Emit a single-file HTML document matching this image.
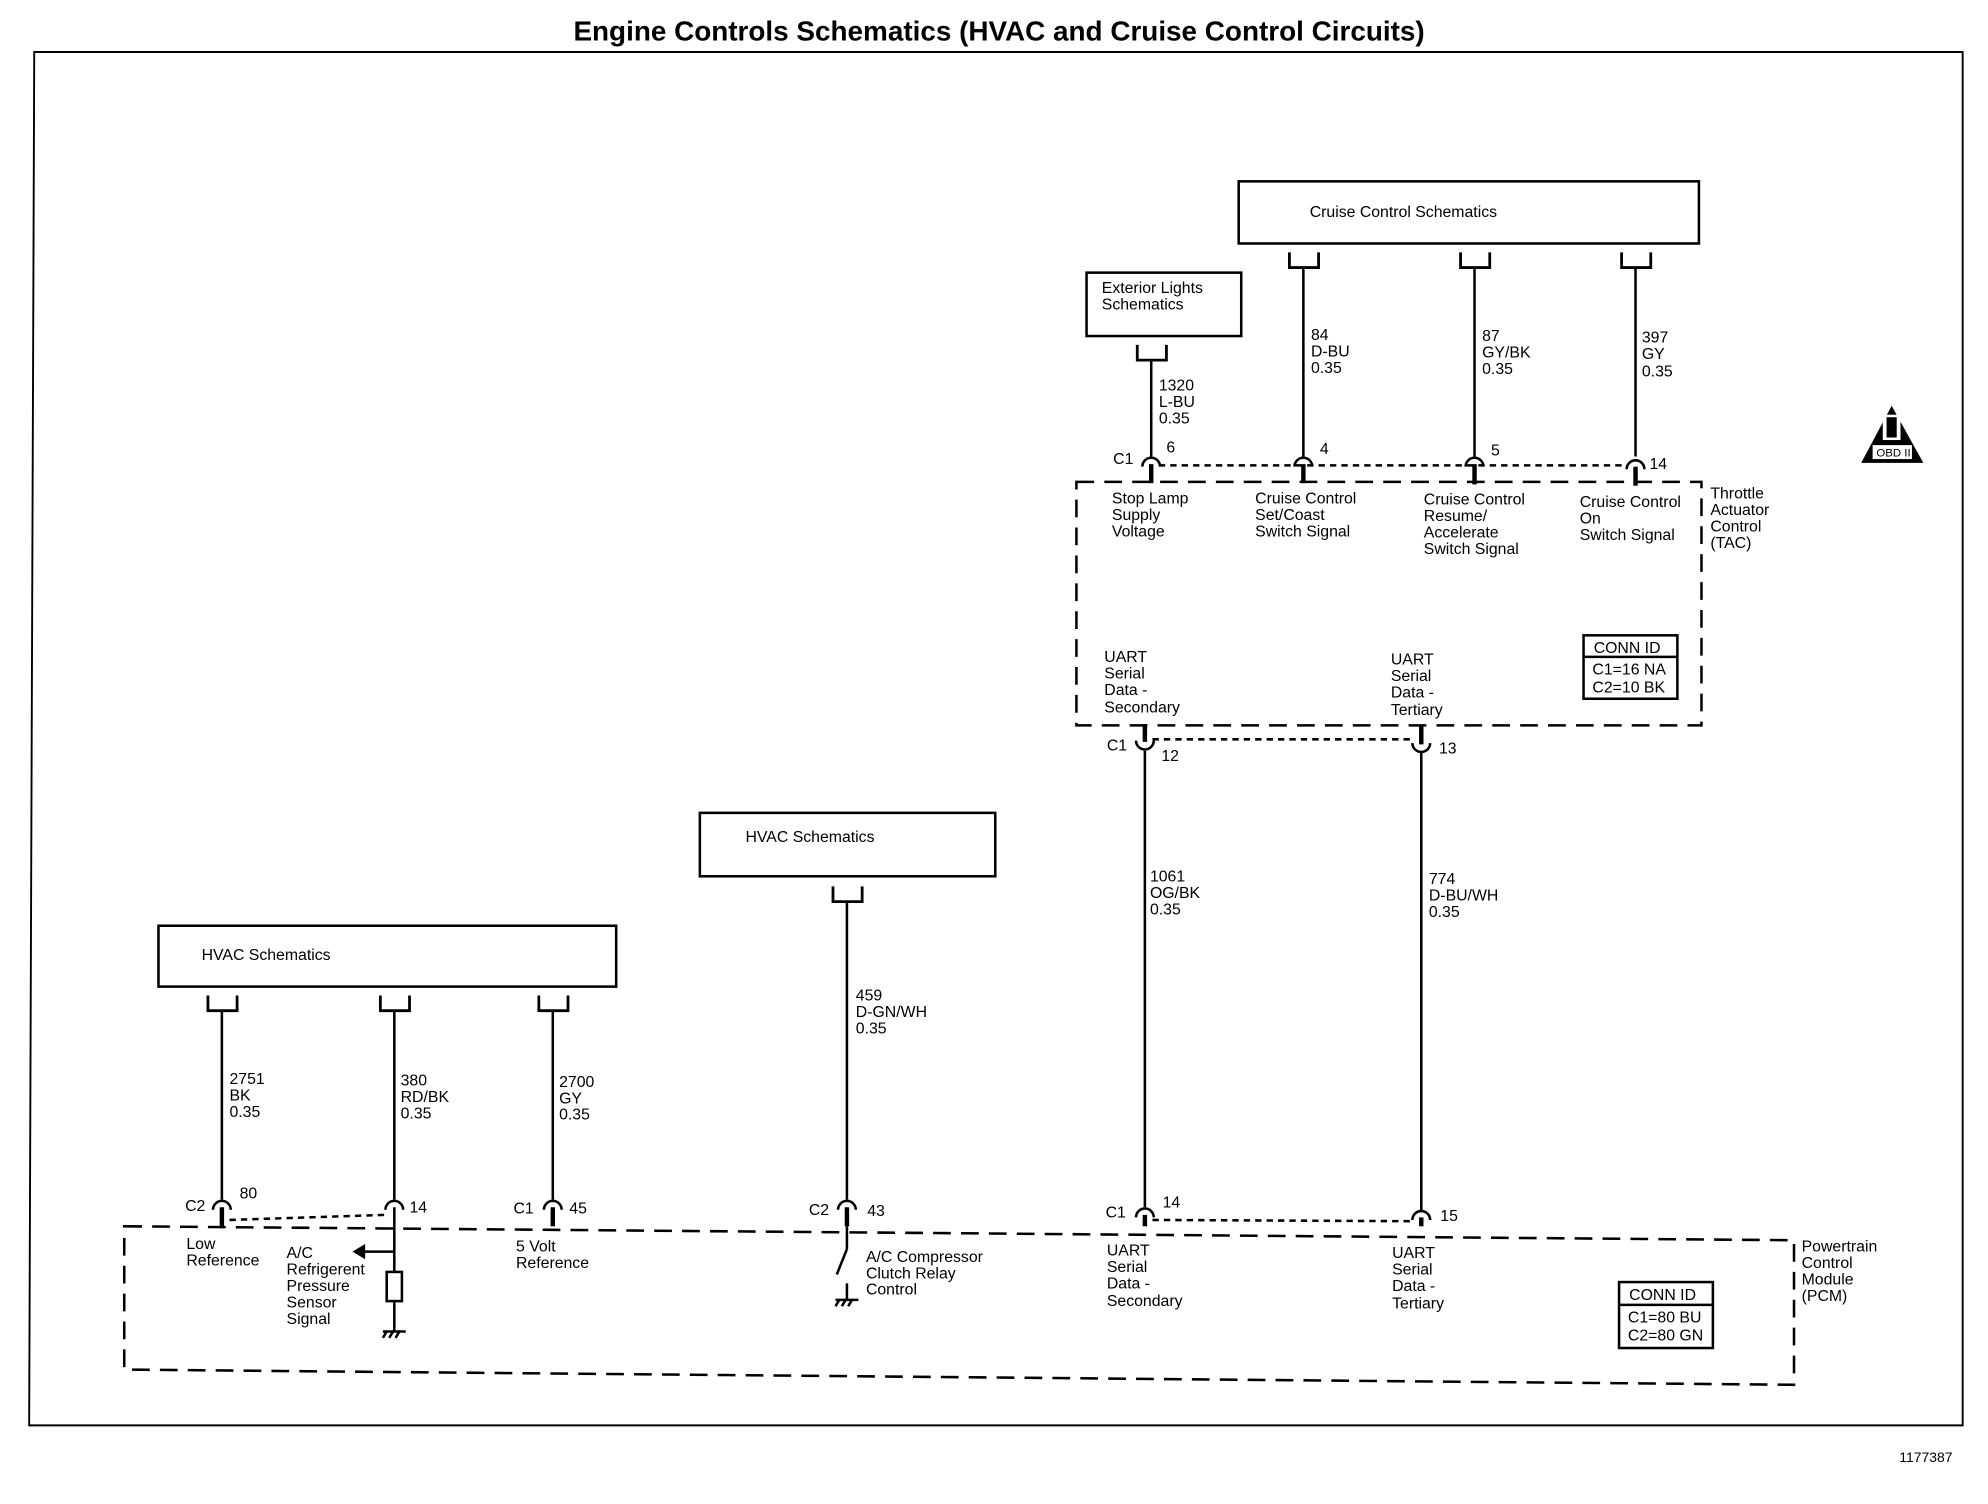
<!DOCTYPE html>
<html><head><style>
html,body{margin:0;padding:0;background:#fff}
svg{display:block}
text{font-family:"Liberation Sans",sans-serif;font-size:12.5px;fill:#000}
.b{font-weight:bold}
</style></head><body>
<svg width="1988" height="1504" viewBox="0 0 1568 1186" preserveAspectRatio="none" xmlns="http://www.w3.org/2000/svg">
<rect width="1568" height="1186" fill="#fff"/>
<text x="788" y="32" text-anchor="middle" class="b" style="font-size:22px">Engine Controls Schematics (HVAC and Cruise Control Circuits)</text>
<path d="M27 41 L1548 41 L1548 1124 L23 1124 Z" fill="none" stroke="#000" stroke-width="1.5"/>
<text x="1498" y="1153" style="font-size:11px">1177387</text>

<g fill="none" stroke="#000" stroke-width="2">
<rect x="977" y="143" width="363" height="49"/>
<rect x="857" y="215" width="122" height="50"/>
<rect x="125" y="730" width="361" height="48"/>
<rect x="552" y="641" width="233" height="50"/>
</g>
<text x="1033" y="171">Cruise Control Schematics</text>
<text x="869" y="231">Exterior Lights</text>
<text x="869" y="244">Schematics</text>
<text x="159" y="757">HVAC Schematics</text>
<text x="588" y="664">HVAC Schematics</text>

<g fill="none" stroke="#000" stroke-width="2.2">
<path d="M897 272 V284 H920 V272"/>
<path d="M1017 199 V211 H1040 V199"/>
<path d="M1152 199 V211 H1175 V199"/>
<path d="M1279 199 V211 H1302 V199"/>
<path d="M164 785 V797 H187 V785"/>
<path d="M300 785 V797 H323 V785"/>
<path d="M425 785 V797 H448 V785"/>
<path d="M657 699 V711 H680 V699"/>
</g>
<g stroke="#000" stroke-width="2">
<line x1="908" y1="284" x2="908" y2="360"/>
<line x1="1028" y1="211" x2="1028" y2="360"/>
<line x1="1163" y1="211" x2="1163" y2="360"/>
<line x1="1290" y1="211" x2="1290" y2="360"/>
<line x1="903" y1="592" x2="903" y2="952"/>
<line x1="1121" y1="592" x2="1121" y2="955"/>
<line x1="175" y1="797" x2="175" y2="946"/>
<line x1="311" y1="797" x2="311" y2="946"/>
<line x1="436" y1="797" x2="436" y2="946"/>
<line x1="668" y1="711" x2="668" y2="946"/>
</g>
<g fill="none" stroke="#000" stroke-width="2">
<path d="M901 368 A7 7 0 0 1 915 368"/>
<path d="M1021 368 A7 7 0 0 1 1035 368"/>
<path d="M1156 368 A7 7 0 0 1 1170 368"/>
<path d="M1283 370 A7 7 0 0 1 1297 370"/>
<path d="M896 584 A7 7 0 0 0 910 584"/>
<path d="M1114 586 A7 7 0 0 0 1128 586"/>
<path d="M896 960 A7 7 0 0 1 910 960"/>
<path d="M1114 962 A7 7 0 0 1 1128 962"/>
<path d="M168 954 A7 7 0 0 1 182 954"/>
<path d="M304 954 A7 7 0 0 1 318 954"/>
<path d="M429 954 A7 7 0 0 1 443 954"/>
<path d="M661 954 A7 7 0 0 1 675 954"/>
</g>
<g stroke="#000" stroke-width="3.5">
<line x1="908" y1="366" x2="908" y2="381"/>
<line x1="1028" y1="366" x2="1028" y2="381"/>
<line x1="1163" y1="366" x2="1163" y2="382"/>
<line x1="1290" y1="368" x2="1290" y2="383"/>
<line x1="903" y1="571" x2="903" y2="585"/>
<line x1="1121" y1="572" x2="1121" y2="587"/>
<line x1="903" y1="958" x2="903" y2="967"/>
<line x1="1121" y1="960" x2="1121" y2="967"/>
<line x1="175" y1="952" x2="175" y2="967"/>
<line x1="436" y1="952" x2="436" y2="967"/>
<line x1="668" y1="952" x2="668" y2="967"/>
</g>
<g stroke="#000" stroke-width="2">
<line x1="311" y1="952" x2="311" y2="1050"/>
<line x1="668" y1="967" x2="668" y2="985"/>
<line x1="668" y1="985" x2="660" y2="1005"/>
<line x1="668" y1="1012" x2="668" y2="1025"/>
<line x1="181" y1="962" x2="304" y2="958" stroke-dasharray="5,4"/>
<line x1="914" y1="367" x2="1283" y2="367" stroke-dasharray="5,4"/>
<line x1="909" y1="583" x2="1115" y2="583" stroke-dasharray="5,4"/>
<line x1="909" y1="962" x2="1115" y2="963" stroke-dasharray="5,4"/>
</g>
<rect x="305" y="1003" width="12" height="23" fill="#fff" stroke="#000" stroke-width="2"/>
<g stroke="#000" stroke-width="2">
<line x1="302" y1="1050" x2="320" y2="1050"/>
<line x1="305" y1="1050" x2="302" y2="1055"/><line x1="310" y1="1050" x2="307" y2="1055"/><line x1="315" y1="1050" x2="312" y2="1055"/>
<line x1="659" y1="1025" x2="677" y2="1025"/>
<line x1="662" y1="1025" x2="659" y2="1030"/><line x1="667" y1="1025" x2="664" y2="1030"/><line x1="672" y1="1025" x2="669" y2="1030"/>
<line x1="287" y1="987" x2="311" y2="987"/>
</g>
<polygon points="278,987 288,981 288,993" fill="#000"/>
<g fill="none" stroke="#000" stroke-width="2" stroke-dasharray="14,8">
<path d="M849 380 L1342 380 L1342 572 L849 572 Z"/>
<path d="M98 967 L1415 978 L1415 1092 L98 1080 Z"/>
</g>
<g fill="none" stroke="#000" stroke-width="2">
<rect x="1249" y="501" width="74" height="50"/><line x1="1249" y1="518" x2="1323" y2="518"/>
<rect x="1277" y="1011" width="74" height="52"/><line x1="1277" y1="1029" x2="1351" y2="1029"/>
</g>
<text x="1257" y="515">CONN ID</text><text x="1256" y="532">C1=16 NA</text><text x="1256" y="546">C2=10 BK</text>
<text x="1285" y="1025">CONN ID</text><text x="1284" y="1043">C1=80 BU</text><text x="1284" y="1057">C2=80 GN</text>
<polygon points="1492,320 1468,365 1517,365" fill="#000"/>
<rect x="1485" y="327" width="14" height="20" fill="#fff"/><rect x="1488" y="329" width="8" height="16" fill="#000"/>
<rect x="1477" y="351" width="31" height="11" fill="#fff"/>
<text x="1480" y="360" style="font-size:9px">OBD II</text>

<g>
<text x="914" y="308">1320</text><text x="914" y="321">L-BU</text><text x="914" y="334">0.35</text>
<text x="1034" y="268">84</text><text x="1034" y="281">D-BU</text><text x="1034" y="294">0.35</text>
<text x="1169" y="269">87</text><text x="1169" y="282">GY/BK</text><text x="1169" y="295">0.35</text>
<text x="1295" y="270">397</text><text x="1295" y="283">GY</text><text x="1295" y="297">0.35</text>
<text x="878" y="366">C1</text><text x="920" y="357">6</text><text x="1041" y="358">4</text><text x="1176" y="359">5</text><text x="1301" y="370">14</text>
<text x="877" y="397">Stop Lamp</text><text x="877" y="410">Supply</text><text x="877" y="423">Voltage</text>
<text x="990" y="397">Cruise Control</text><text x="990" y="410">Set/Coast</text><text x="990" y="423">Switch Signal</text>
<text x="1123" y="398">Cruise Control</text><text x="1123" y="411">Resume/</text><text x="1123" y="424">Accelerate</text><text x="1123" y="437">Switch Signal</text>
<text x="1246" y="400">Cruise Control</text><text x="1246" y="413">On</text><text x="1246" y="426">Switch Signal</text>
<text x="1349" y="393">Throttle</text><text x="1349" y="406">Actuator</text><text x="1349" y="419">Control</text><text x="1349" y="432">(TAC)</text>
<text x="871" y="522">UART</text><text x="871" y="535">Serial</text><text x="871" y="548">Data -</text><text x="871" y="562">Secondary</text>
<text x="1097" y="524">UART</text><text x="1097" y="537">Serial</text><text x="1097" y="550">Data -</text><text x="1097" y="564">Tertiary</text>
<text x="873" y="592">C1</text><text x="916" y="600">12</text><text x="1135" y="594">13</text>
<text x="907" y="695">1061</text><text x="907" y="708">OG/BK</text><text x="907" y="721">0.35</text>
<text x="1127" y="697">774</text><text x="1127" y="710">D-BU/WH</text><text x="1127" y="723">0.35</text>
<text x="675" y="789">459</text><text x="675" y="802">D-GN/WH</text><text x="675" y="815">0.35</text>
<text x="181" y="855">2751</text><text x="181" y="868">BK</text><text x="181" y="881">0.35</text>
<text x="316" y="856">380</text><text x="316" y="869">RD/BK</text><text x="316" y="882">0.35</text>
<text x="441" y="857">2700</text><text x="441" y="870">GY</text><text x="441" y="883">0.35</text>
<text x="146" y="955">C2</text><text x="189" y="945">80</text><text x="323" y="956">14</text>
<text x="405" y="957">C1</text><text x="449" y="957">45</text>
<text x="638" y="958">C2</text><text x="684" y="959">43</text>
<text x="872" y="960">C1</text><text x="917" y="952">14</text><text x="1136" y="963">15</text>
<text x="147" y="985">Low</text><text x="147" y="998">Reference</text>
<text x="226" y="992">A/C</text><text x="226" y="1005">Refrigerent</text><text x="226" y="1018">Pressure</text><text x="226" y="1031">Sensor</text><text x="226" y="1044">Signal</text>
<text x="407" y="987">5 Volt</text><text x="407" y="1000">Reference</text>
<text x="683" y="995">A/C Compressor</text><text x="683" y="1008">Clutch Relay</text><text x="683" y="1021">Control</text>
<text x="873" y="990">UART</text><text x="873" y="1003">Serial</text><text x="873" y="1016">Data -</text><text x="873" y="1030">Secondary</text>
<text x="1098" y="992">UART</text><text x="1098" y="1005">Serial</text><text x="1098" y="1018">Data -</text><text x="1098" y="1032">Tertiary</text>
<text x="1421" y="987">Powertrain</text><text x="1421" y="1000">Control</text><text x="1421" y="1013">Module</text><text x="1421" y="1026">(PCM)</text>
</g>
</svg>
</body></html>
